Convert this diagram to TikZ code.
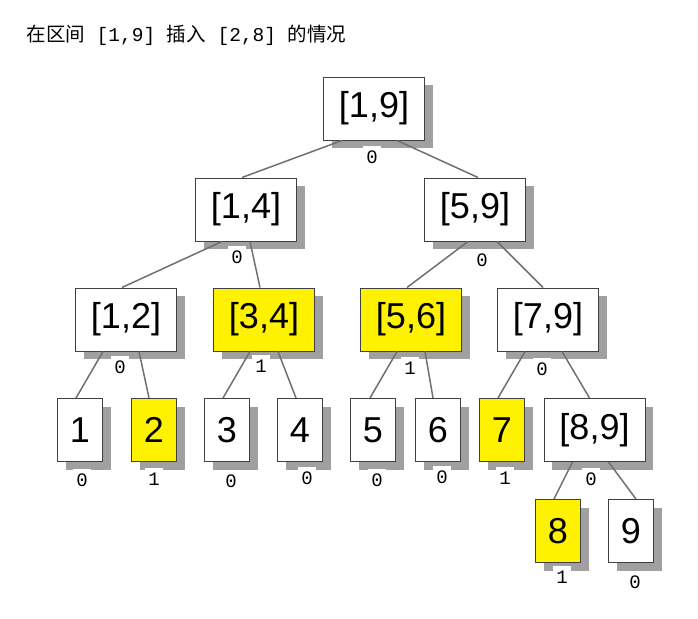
\documentclass[tikz,border=0pt]{standalone}
\usepackage{fontspec}
\setmainfont{Liberation Sans}
\setmonofont{Liberation Mono}
\newfontfamily\cjk{Noto Sans CJK SC}
\usetikzlibrary{shadows}
\definecolor{shadegray}{HTML}{A0A0A0}
\definecolor{edgegray}{HTML}{707070}
\definecolor{boxline}{HTML}{404040}

\begin{document}
\begin{tikzpicture}[x=1pt,y=-1pt,
  seg/.style={draw=boxline, line width=1pt, fill=white, minimum height=63pt, inner sep=0pt,
    font=\fontsize{36}{40}\selectfont,
    drop shadow={shadow xshift=8pt, shadow yshift=-8pt, fill=shadegray, draw=none, opacity=1}},
  wide/.style={seg, minimum width=101pt},
  slim/.style={seg, minimum width=45pt},
  hit/.style={fill=yellow},
  tree/.style={draw=edgegray, line width=1.5pt},
  cnt/.style={fill=white, inner sep=0pt, minimum width=18pt, minimum height=22pt,
    font=\ttfamily\fontsize{19}{22}\selectfont}]

\useasboundingbox (0,0) rectangle (698,618);

\node[anchor=west, font=\fontsize{19.5}{24}\selectfont] (title) at (23,35)
  {{\cjk 在区间}\texttt{ [1,9] }{\cjk 插入}\texttt{ [2,8] }{\cjk 的情况}};

\node[wide] (s19) at (374,108.5) {[1,9]};
\node[wide] (s14) at (246,209.5) {[1,4]};
\node[wide] (s59) at (475,209.5) {[5,9]};
\node[wide] (s12) at (126,319.5) {[1,2]};
\node[wide, hit] (s34) at (264,319.5) {[3,4]};
\node[wide, hit] (s56) at (411,319.5) {[5,6]};
\node[wide] (s79) at (548,319.5) {[7,9]};
\node[slim] (s1) at (80,430) {1};
\node[slim, hit] (s2) at (154,430) {2};
\node[slim] (s3) at (227,430) {3};
\node[slim] (s4) at (300,430) {4};
\node[slim] (s5) at (373,430) {5};
\node[slim] (s6) at (438,430) {6};
\node[slim, hit] (s7) at (502,430) {7};
\node[wide] (s89) at (594.5,430) {[8,9]};
\node[slim, hit] (s8) at (558,531) {8};
\node[slim] (s9) at (631,531) {9};

\draw[tree] ([xshift=-32pt]s19.south) -- ([xshift=-4pt]s14.north);
\draw[tree] ([xshift=23pt]s19.south) -- ([xshift=3pt]s59.north);
\draw[tree] ([xshift=-24pt]s14.south) -- ([xshift=-4pt]s12.north);
\draw[tree] ([xshift=4pt]s14.south) -- ([xshift=-4pt]s34.north);
\draw[tree] ([xshift=-7pt]s59.south) -- ([xshift=-4pt]s56.north);
\draw[tree] ([xshift=22pt]s59.south) -- ([xshift=-5pt]s79.north);
\draw[tree] ([xshift=-23pt]s12.south) -- ([xshift=-4pt]s1.north);
\draw[tree] ([xshift=13pt]s12.south) -- ([xshift=-5pt]s2.north);
\draw[tree] ([xshift=-14pt]s34.south) -- ([xshift=-4pt]s3.north);
\draw[tree] ([xshift=14pt]s34.south) -- ([xshift=-4pt]s4.north);
\draw[tree] ([xshift=-14pt]s56.south) -- ([xshift=-3pt]s5.north);
\draw[tree] ([xshift=14pt]s56.south) -- ([xshift=-5pt]s6.north);
\draw[tree] ([xshift=-23pt]s79.south) -- ([xshift=-4pt]s7.north);
\draw[tree] ([xshift=14pt]s79.south) -- ([xshift=-5pt]s89.north);
\draw[tree] ([xshift=-22pt]s89.south) -- ([xshift=-4pt]s8.north);
\draw[tree] ([xshift=14pt]s89.south) -- ([xshift=5pt]s9.north);

\node[cnt] (k19) at (372,157) {0};
\node[cnt] (k14) at (237,257) {0};
\node[cnt] (k59) at (482,260) {0};
\node[cnt] (k12) at (120,367) {0};
\node[cnt] (k34) at (261,366) {1};
\node[cnt] (k56) at (410,368) {1};
\node[cnt] (k79) at (542,369) {0};
\node[cnt] (k1) at (82,480) {0};
\node[cnt] (k2) at (154,479) {1};
\node[cnt] (k3) at (231,481) {0};
\node[cnt] (k4) at (307,478) {0};
\node[cnt] (k5) at (377,480) {0};
\node[cnt] (k6) at (442,477) {0};
\node[cnt] (k7) at (505,478) {1};
\node[cnt] (k89) at (591,479) {0};
\node[cnt] (k8) at (562,577) {1};
\node[cnt] (k9) at (635,582) {0};
\end{tikzpicture}
\end{document}
